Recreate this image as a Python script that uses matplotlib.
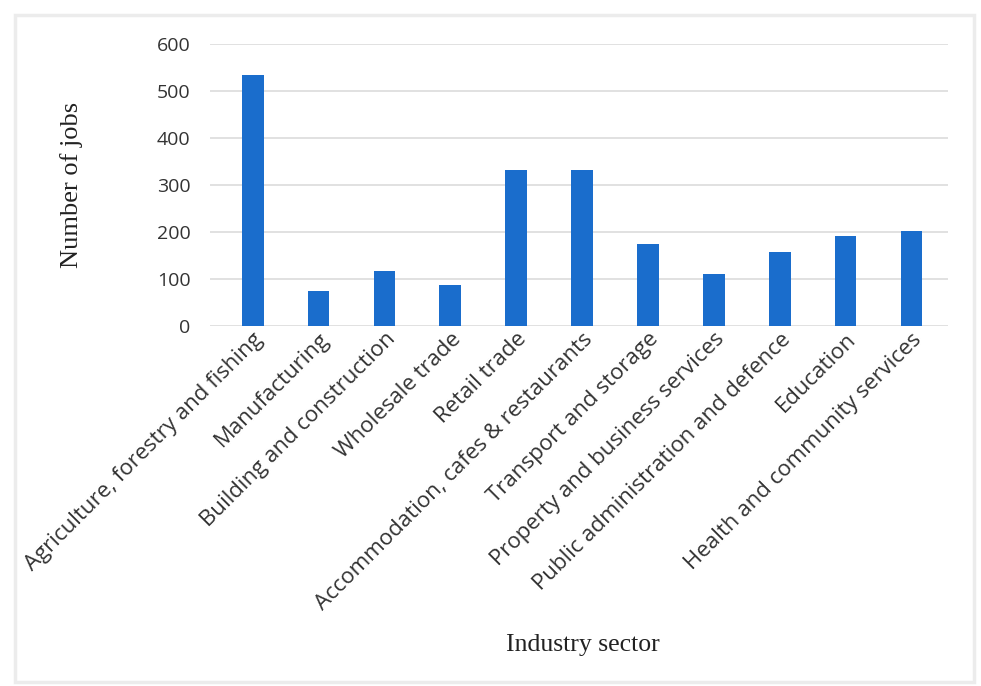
import matplotlib
matplotlib.use("Agg")
import matplotlib.pyplot as plt
from matplotlib.patches import Rectangle

# jobs by industry sector
sectors = [
    "Agriculture, forestry and fishing",
    "Manufacturing",
    "Building and construction",
    "Wholesale trade",
    "Retail trade",
    "Accommodation, cafes & restaurants",
    "Transport and storage",
    "Property and business services",
    "Public administration and defence",
    "Education",
    "Health and community services",
]
jobs = [534, 75, 118, 87, 331, 331, 175, 110, 157, 192, 201]
yticks = [0, 100, 200, 300, 400, 500, 600]

fig = plt.figure(figsize=(9.81, 6.86), dpi=100)
ax = fig.add_axes([0.214, 0.5248, 0.752, 0.4112])

x = range(len(sectors))
ax.bar(x, jobs, width=0.33, color="#1a6dcc", zorder=3)

ax.set_ylim(0, 600)
ax.set_xlim(-0.65, 10.55)
ax.set_yticks(yticks)
ax.yaxis.grid(True, color="#dcdcdc", linewidth=1.2, zorder=0)
for s in ax.spines.values():
    s.set_visible(False)
ax.tick_params(axis="both", length=0, labelsize=14, labelcolor="#333333")
ax.tick_params(axis="y", pad=14)
ax.tick_params(axis="x", pad=2)

ax.set_xticks(list(x))
ax.set_xticklabels(sectors, rotation=45, ha="right", va="top",
                   rotation_mode="anchor", fontfamily="Open Sans", fontsize=16)
for lbl in ax.get_yticklabels():
    lbl.set_fontfamily("Open Sans")

fig.text(0.073, 0.73, "Number of jobs", rotation=90, ha="center", va="center",
         fontfamily="Liberation Serif", fontsize=19, color="#222222")
fig.text(0.594, 0.06, "Industry sector", ha="center", va="center",
         fontfamily="Liberation Serif", fontsize=18.5, color="#222222")

# light frame round the chart area
fig.patches.append(Rectangle((0.015, 0.006), 0.978, 0.972, transform=fig.transFigure,
                             fill=False, edgecolor="#ececec", linewidth=2.5))

fig.savefig("out.png", dpi=100)
